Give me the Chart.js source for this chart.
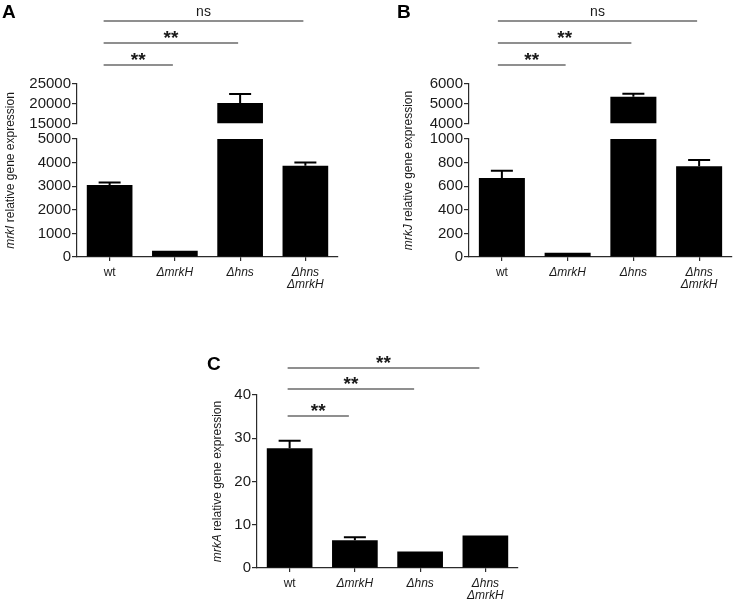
<!DOCTYPE html>
<html>
<head>
<meta charset="utf-8">
<script src="https://cdn.jsdelivr.net/npm/chart.js@4"></script>
<style>
  body { margin: 0; background: #fff; }
  #page { position: relative; width: 733px; height: 600px; overflow: hidden; background: #fff; }
  canvas { position: absolute; }
</style>
</head>
<body>
<div id="page">
  <canvas id="chartA" width="366" height="290" style="left:0;top:0"></canvas>
  <canvas id="chartB" width="367" height="290" style="left:366px;top:0"></canvas>
  <canvas id="chartC" width="380" height="300" style="left:180px;top:300px"></canvas>
</div>
<script>
// strains on the x axis
const strains = ['wt', 'ΔmrkH', 'Δhns', ['Δhns', 'ΔmrkH']];

// A - mrkI (mean and SEM)
const mrkIMean = [3050, 260, 20200, 3870];
const mrkISem = [110, 0, 2300, 130];
const mrkITicksLow = [0, 1000, 2000, 3000, 4000, 5000];
const mrkITicksHigh = [15000, 20000, 25000];
const mrkISig = ['**', '**', 'ns'];

// B - mrkJ
const mrkJMean = [670, 37, 5350, 770];
const mrkJSem = [60, 0, 160, 52];
const mrkJTicksLow = [0, 200, 400, 600, 800, 1000];
const mrkJTicksHigh = [4000, 5000, 6000];
const mrkJSig = ['**', '**', 'ns'];

// C - mrkA
const mrkAMean = [27.7, 6.4, 3.8, 7.5];
const mrkASem = [1.7, 0.7, 0, 0];
const mrkATicks = [0, 10, 20, 30, 40];
const mrkASig = ['**', '**', '**'];

// wt compared with each mutant
const sigPairs = [[0, 1], [0, 2], [0, 3]];

const FONT = '"Liberation Sans", Arial, sans-serif';
const axisColor = '#2b2b2b';
const textColor = '#1a1a1a';

function yScale(ticks, axisW, extra) {
  return Object.assign({
    type: 'linear',
    position: 'left',
    min: ticks[0],
    max: ticks[ticks.length - 1],
    afterBuildTicks: s => { s.ticks = ticks.map(v => ({ value: v })); },
    afterFit: s => { s.width = axisW; },
    grid: { drawOnChartArea: false, drawTicks: true, tickLength: 5, color: axisColor, lineWidth: 1.2 },
    border: { color: axisColor, width: 1.2 },
    ticks: { autoSkip: false, padding: 1, color: textColor, font: { family: FONT, size: 15 }, callback: v => String(v) }
  }, extra);
}

function makePanel(id, p) {
  const broken = !!p.hiTicks;
  const loMax = p.loTicks[p.loTicks.length - 1];
  const hiMin = broken ? p.hiTicks[0] : null;

  const datasets = [{
    data: p.mean.map(v => Math.min(v, loMax)),
    yAxisID: 'yLo',
    backgroundColor: '#000',
    borderWidth: 0
  }];
  if (broken) {
    datasets.push({
      data: p.mean.map(v => v > hiMin ? [hiMin, v] : null),
      yAxisID: 'yHi',
      backgroundColor: '#000',
      borderWidth: 0
    });
  }

  const scales = {
    x: {
      type: 'category',
      offset: true,
      afterFit: s => { s.height = p.xAxisH; },
      grid: { offset: false, drawOnChartArea: false, drawTicks: true, tickLength: 4, color: axisColor, lineWidth: 1.2 },
      border: { color: axisColor, width: 1.2 },
      ticks: {
        padding: 6,
        color: textColor,
        maxRotation: 0,
        autoSkip: false,
        font: c => ({ family: FONT, size: 12, lineHeight: 0.97, style: c.index === 0 ? 'normal' : 'italic' })
      }
    }
  };
  if (broken) {
    scales.yHi = yScale(p.hiTicks, p.axisW, { stack: 'y', stackWeight: p.weights[0], weight: 3 });
    scales.yGap = { type: 'linear', position: 'left', display: false, stack: 'y', stackWeight: p.weights[1], weight: 2 };
    scales.yLo = yScale(p.loTicks, p.axisW, { stack: 'y', stackWeight: p.weights[2], weight: 1 });
  } else {
    scales.yLo = yScale(p.loTicks, p.axisW, {});
  }

  // error bars (upper SEM), significance lines, y title and panel letter
  const deco = {
    id: 'deco' + id,
    afterDatasetsDraw(chart) {
      const { ctx } = chart;
      const xs = chart.scales.x;
      ctx.save();
      ctx.strokeStyle = '#000';
      ctx.lineWidth = 2;
      p.mean.forEach((m, i) => {
        const e = p.sem[i];
        if (!e) return;
        const sc = broken && m > hiMin ? chart.scales.yHi : chart.scales.yLo;
        const px = xs.getPixelForValue(i);
        const y0 = sc.getPixelForValue(m);
        const y1 = sc.getPixelForValue(m + e);
        ctx.beginPath();
        ctx.moveTo(px, y0);
        ctx.lineTo(px, y1);
        ctx.moveTo(px - 11, y1);
        ctx.lineTo(px + 11, y1);
        ctx.stroke();
      });
      ctx.restore();
    },
    afterDraw(chart) {
      const { ctx, chartArea } = chart;
      const xs = chart.scales.x;
      ctx.save();

      // significance brackets
      sigPairs.forEach((pair, k) => {
        const x0 = xs.getPixelForValue(pair[0]) + p.sigDx[0];
        const x1 = xs.getPixelForValue(pair[1]) + p.sigDx[1];
        const y = p.sigY[k];
        ctx.strokeStyle = '#6a6a6a';
        ctx.lineWidth = 1.4;
        ctx.beginPath();
        ctx.moveTo(x0, y);
        ctx.lineTo(x1, y);
        ctx.stroke();
        const lab = p.sig[k];
        ctx.fillStyle = textColor;
        ctx.textAlign = 'center';
        ctx.textBaseline = 'alphabetic';
        if (lab === 'ns') {
          ctx.font = '14px ' + FONT;
          ctx.fillText(lab, (x0 + x1) / 2, y - 5);
        } else {
          ctx.font = 'bold 19px ' + FONT;
          ctx.fillText(lab, (x0 + x1) / 2, y + 1);
        }
      });

      // panel letter
      ctx.fillStyle = '#000';
      ctx.textAlign = 'left';
      ctx.textBaseline = 'alphabetic';
      ctx.font = 'bold 19px ' + FONT;
      ctx.fillText(p.letter, p.letterPos[0], p.letterPos[1]);

      // y axis title, gene name in italics
      const gene = p.gene;
      const rest = ' relative gene expression';
      ctx.translate(p.titleX, (chartArea.top + chartArea.bottom) / 2);
      ctx.rotate(-Math.PI / 2);
      ctx.textBaseline = 'middle';
      ctx.font = 'italic 12px ' + FONT;
      const w1 = ctx.measureText(gene).width;
      ctx.font = '12px ' + FONT;
      const w2 = ctx.measureText(rest).width;
      let sx = -(w1 + w2) / 2;
      ctx.fillStyle = textColor;
      ctx.font = 'italic 12px ' + FONT;
      ctx.fillText(gene, sx, 0);
      ctx.font = '12px ' + FONT;
      ctx.fillText(rest, sx + w1, 0);
      ctx.restore();
    }
  };

  new Chart(document.getElementById(id), {
    type: 'bar',
    data: { labels: strains, datasets: datasets },
    options: {
      responsive: false,
      animation: false,
      layout: { padding: p.padding },
      datasets: { bar: { grouped: false, barPercentage: 0.7, categoryPercentage: 1.0 } },
      plugins: { legend: { display: false }, tooltip: { enabled: false } },
      scales: scales
    },
    plugins: [deco]
  });
}

makePanel('chartA', {
  mean: mrkIMean, sem: mrkISem, loTicks: mrkITicksLow, hiTicks: mrkITicksHigh, sig: mrkISig,
  gene: 'mrkI', letter: 'A', letterPos: [2, 18], titleX: 11,
  axisW: 77, xAxisH: 33, weights: [39.5, 15.5, 118],
  padding: { top: 84, left: 0, right: 28, bottom: 0 },
  sigY: [65, 43, 21], sigDx: [-6, -2]
});

makePanel('chartB', {
  mean: mrkJMean, sem: mrkJSem, loTicks: mrkJTicksLow, hiTicks: mrkJTicksHigh, sig: mrkJSig,
  gene: 'mrkJ', letter: 'B', letterPos: [31, 18], titleX: 43,
  axisW: 103, xAxisH: 33, weights: [39.5, 15.5, 118],
  padding: { top: 84, left: 0, right: 1, bottom: 0 },
  sigY: [65, 43, 21], sigDx: [-4, -2]
});

makePanel('chartC', {
  mean: mrkAMean, sem: mrkASem, loTicks: mrkATicks, hiTicks: null, sig: mrkASig,
  gene: 'mrkA', letter: 'C', letterPos: [27, 70], titleX: 38,
  axisW: 77, xAxisH: 32, weights: null,
  padding: { top: 95, left: 0, right: 42, bottom: 0 },
  sigY: [116, 89, 68], sigDx: [-2, -6]
});
</script>
</body>
</html>
